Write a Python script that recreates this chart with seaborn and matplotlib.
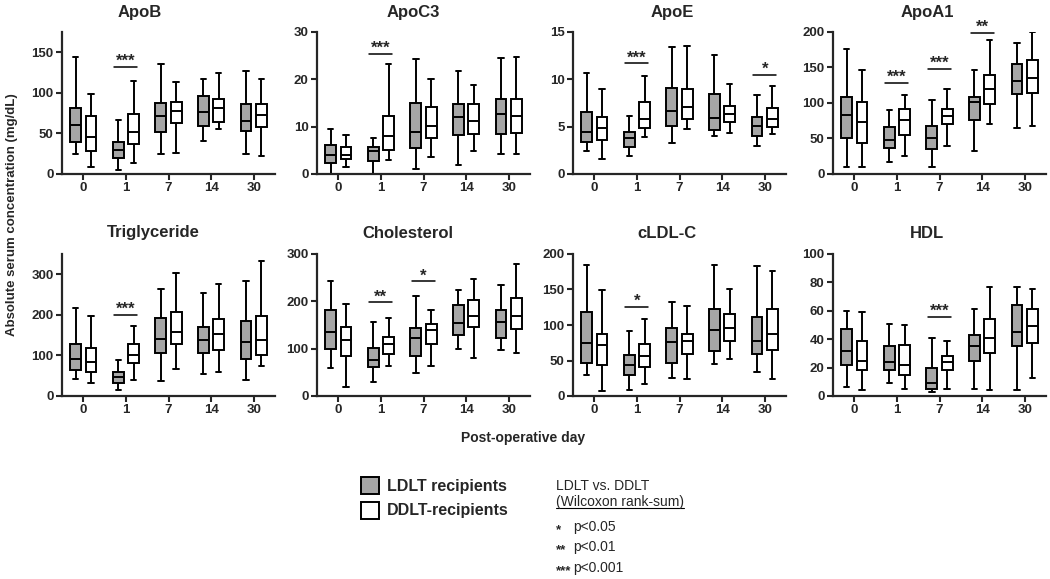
import numpy as np
import pandas as pd
import seaborn as sns
import matplotlib.pyplot as plt
from matplotlib.patches import Rectangle
from matplotlib.lines import Line2D

# post-operative days and recipient groups
days = ["0", "1", "7", "14", "30"]
groups = ["LDLT", "DDLT"]

# five-number summaries, one row per day:
# (min, q1, median, q3, max)
apob_ldlt = [[25, 39, 61, 81, 144], [5, 20, 30, 40, 67], [25, 52, 71, 87, 136], [41, 59, 76, 96, 117], [25, 53, 65, 86, 127]]
apob_ddlt = [[9, 28, 46, 71, 98], [13, 37, 52, 74, 115], [26, 63, 78, 89, 113], [56, 64, 81, 92, 125], [22, 58, 73, 86, 117]]

apoc3_ldlt = [[0, 2.3, 4.0, 6.2, 9.6], [0, 2.7, 4.8, 5.6, 7.6], [1.1, 5.4, 8.9, 14.9, 24.4], [2.0, 8.2, 12.1, 14.8, 21.7], [4.2, 8.4, 12.7, 15.8, 24.5]]
apoc3_ddlt = [[1.4, 3.1, 4.0, 5.8, 8.3], [3.0, 5.0, 8.0, 12.3, 23.3], [3.5, 7.7, 10.1, 14.2, 20.1], [4.8, 8.5, 11.1, 14.8, 18.8], [4.2, 8.7, 12.2, 15.9, 24.7]]

apoe_ldlt = [[2.4, 3.4, 4.4, 6.6, 10.7], [1.9, 2.8, 3.8, 4.4, 6.1], [3.3, 5.1, 6.7, 9.1, 13.4], [4.0, 4.7, 5.9, 8.5, 12.6], [3.0, 4.0, 5.1, 6.0, 8.3]]
apoe_ddlt = [[1.6, 3.6, 4.9, 6.0, 9.0], [3.9, 4.9, 5.8, 7.6, 10.4], [4.8, 5.8, 7.1, 9.0, 13.5], [4.3, 5.5, 6.3, 7.2, 9.5], [4.2, 5.0, 5.8, 7.0, 9.3]]

apoa1_ldlt = [[10, 51, 83, 108, 176], [17, 37, 48, 66, 90], [10, 35, 51, 68, 104], [33, 76, 101, 108, 147], [65, 113, 131, 155, 184]]
apoa1_ddlt = [[10, 44, 73, 101, 146], [26, 55, 76, 91, 111], [39, 70, 81, 92, 120], [70, 98, 120, 139, 189], [67, 114, 135, 160, 200]]

trig_ldlt = [[41, 63, 90, 128, 217], [15, 33, 46, 60, 89], [37, 106, 140, 192, 264], [53, 107, 137, 169, 254], [40, 91, 134, 184, 283]]
trig_ddlt = [[31, 58, 85, 118, 198], [40, 81, 100, 127, 173], [67, 129, 157, 207, 302], [58, 113, 154, 190, 276], [73, 101, 138, 196, 332]]

chol_ldlt = [[60, 100, 135, 181, 244], [30, 62, 76, 102, 157], [49, 84, 122, 144, 212], [100, 128, 154, 193, 224], [97, 122, 156, 182, 234]]
chol_ddlt = [[20, 85, 119, 145, 194], [64, 89, 109, 124, 164], [63, 110, 140, 152, 181], [80, 146, 169, 202, 247], [90, 142, 169, 206, 279]]

cldl_ldlt = [[30, 47, 74, 119, 185], [8, 29, 43, 58, 91], [25, 47, 76, 96, 132], [45, 63, 93, 122, 185], [34, 59, 77, 111, 183]]
cldl_ddlt = [[7, 43, 72, 87, 149], [17, 41, 57, 73, 108], [24, 59, 78, 88, 127], [52, 77, 96, 116, 151], [24, 65, 87, 123, 176]]

hdl_ldlt = [[6, 22, 32, 47, 60], [9, 18, 24, 35, 51], [3, 5, 9, 20, 41], [5, 25, 35, 43, 61], [4, 35, 45, 64, 77]]
hdl_ddlt = [[4, 18, 25, 39, 59], [5, 15, 22, 36, 50], [5, 18, 24, 28, 39], [4, 30, 41, 54, 77], [13, 37, 49, 61, 75]]

titles = ["ApoB", "ApoC3", "ApoE", "ApoA1", "Triglyceride", "Cholesterol", "cLDL-C", "HDL"]
ldlt_sets = [apob_ldlt, apoc3_ldlt, apoe_ldlt, apoa1_ldlt, trig_ldlt, chol_ldlt, cldl_ldlt, hdl_ldlt]
ddlt_sets = [apob_ddlt, apoc3_ddlt, apoe_ddlt, apoa1_ddlt, trig_ddlt, chol_ddlt, cldl_ddlt, hdl_ddlt]
yticks = [[0, 50, 100, 150], [0, 10, 20, 30], [0, 5, 10, 15], [0, 50, 100, 150, 200],
          [0, 100, 200, 300], [0, 100, 200, 300], [0, 50, 100, 150, 200], [0, 20, 40, 60, 80, 100]]
ytops = [175, 30, 15, 200, 350, 300, 200, 100]

# significance marks: (day index, stars, bar level)
sig_marks = [
    [(1, "***", 132)],
    [(1, "***", 25.4)],
    [(1, "***", 11.7), (4, "*", 10.5)],
    [(1, "***", 128), (2, "***", 148), (3, "**", 199)],
    [(1, "***", 200)],
    [(1, "**", 198), (2, "*", 242)],
    [(1, "*", 126)],
    [(2, "***", 55.6)],
]

sns.set_style("ticks")
plt.rcParams["font.family"] = ["Liberation Sans", "DejaVu Sans"]
plt.rcParams["axes.linewidth"] = 1.6

gray = "#a6a6a6"
pal = {"LDLT": gray, "DDLT": "white"}

W, H = 1050, 579
fig = plt.figure(figsize=(W / 100, H / 100), dpi=100)

lefts = [62, 317, 573, 833]
rows = [(174, 32), (396, 254)]  # bottom / top pixel of each row
title_x = [140, 413, 672, 927, 153, 408, 667, 927]
title_y = [13, 233]

for i, title in enumerate(titles):
    r, c = divmod(i, 4)
    bot, top = rows[r]
    ax = fig.add_axes([lefts[c] / W, 1 - bot / H, 213 / W, (bot - top) / H])

    recs = []
    for g, sets in zip(groups, [ldlt_sets[i], ddlt_sets[i]]):
        for d, vals in zip(days, sets):
            for v in vals:
                recs.append({"day": d, "group": g, "value": v})
    df = pd.DataFrame(recs)

    sns.boxplot(data=df, x="day", y="value", hue="group", order=days, hue_order=groups,
                palette=pal, width=0.72, gap=0.3, whis=(0, 100), linecolor="black",
                linewidth=1.4, fliersize=0, legend=False, ax=ax)

    sns.despine(ax=ax)
    ax.set_xlim(-0.5, 4.5)
    ax.set_ylim(0, ytops[i])
    ax.set_yticks(yticks[i])
    ax.set_xlabel("")
    ax.set_ylabel("")
    ax.tick_params(axis="both", length=4, width=1.5, labelsize=9.5, pad=2)
    for lab in ax.get_xticklabels() + ax.get_yticklabels():
        lab.set_fontweight("bold")

    for d, stars, lvl in sig_marks[i]:
        ax.plot([d - 0.27, d + 0.27], [lvl, lvl], color="black", lw=1.1)
        ax.annotate(stars, (d, lvl), xytext=(0, -1.5), textcoords="offset points",
                    ha="center", va="bottom", fontsize=12, fontweight="bold")

    fig.text(title_x[i] / W, 1 - title_y[r] / H, title, ha="center", va="center",
             fontsize=12, fontweight="bold")

fig.text(12 / W, 1 - 215 / H, "Absolute serum concentration (mg/dL)", rotation=90,
         ha="center", va="center", fontsize=9.5, fontweight="bold")
fig.text(523 / W, 1 - 438 / H, "Post-operative day", ha="center", va="center",
         fontsize=10, fontweight="bold")

# group key
for y0, col, lab in [(477, gray, "LDLT recipients"), (502, "white", "DDLT-recipients")]:
    fig.add_artist(Rectangle((361 / W, 1 - (y0 + 17) / H), 18 / W, 17 / H,
                             facecolor=col, edgecolor="black", lw=1.4,
                             transform=fig.transFigure))
    fig.text(387 / W, 1 - (y0 + 9) / H, lab, ha="left", va="center",
             fontsize=11.5, fontweight="bold")

# significance key
fig.text(556 / W, 1 - 486 / H, "LDLT vs. DDLT", ha="left", va="center", fontsize=10)
wt = fig.text(556 / W, 1 - 502 / H, "(Wilcoxon rank-sum)", ha="left", va="center", fontsize=10)
fig.canvas.draw()
bb = wt.get_window_extent().transformed(fig.transFigure.inverted())
fig.add_artist(Line2D([bb.x0, bb.x1], [bb.y0 + 0.002, bb.y0 + 0.002], color="black",
                      lw=0.8, transform=fig.transFigure))
for y0, stars, txt in [(527, "*", "p<0.05"), (547, "**", "p<0.01"), (568, "***", "p<0.001")]:
    fig.text(556 / W, 1 - (y0 + 3) / H, stars, ha="left", va="center", fontsize=9.5, fontweight="bold")
    fig.text(573 / W, 1 - y0 / H, txt, ha="left", va="center", fontsize=10)

fig.savefig("out.png", dpi=100)
